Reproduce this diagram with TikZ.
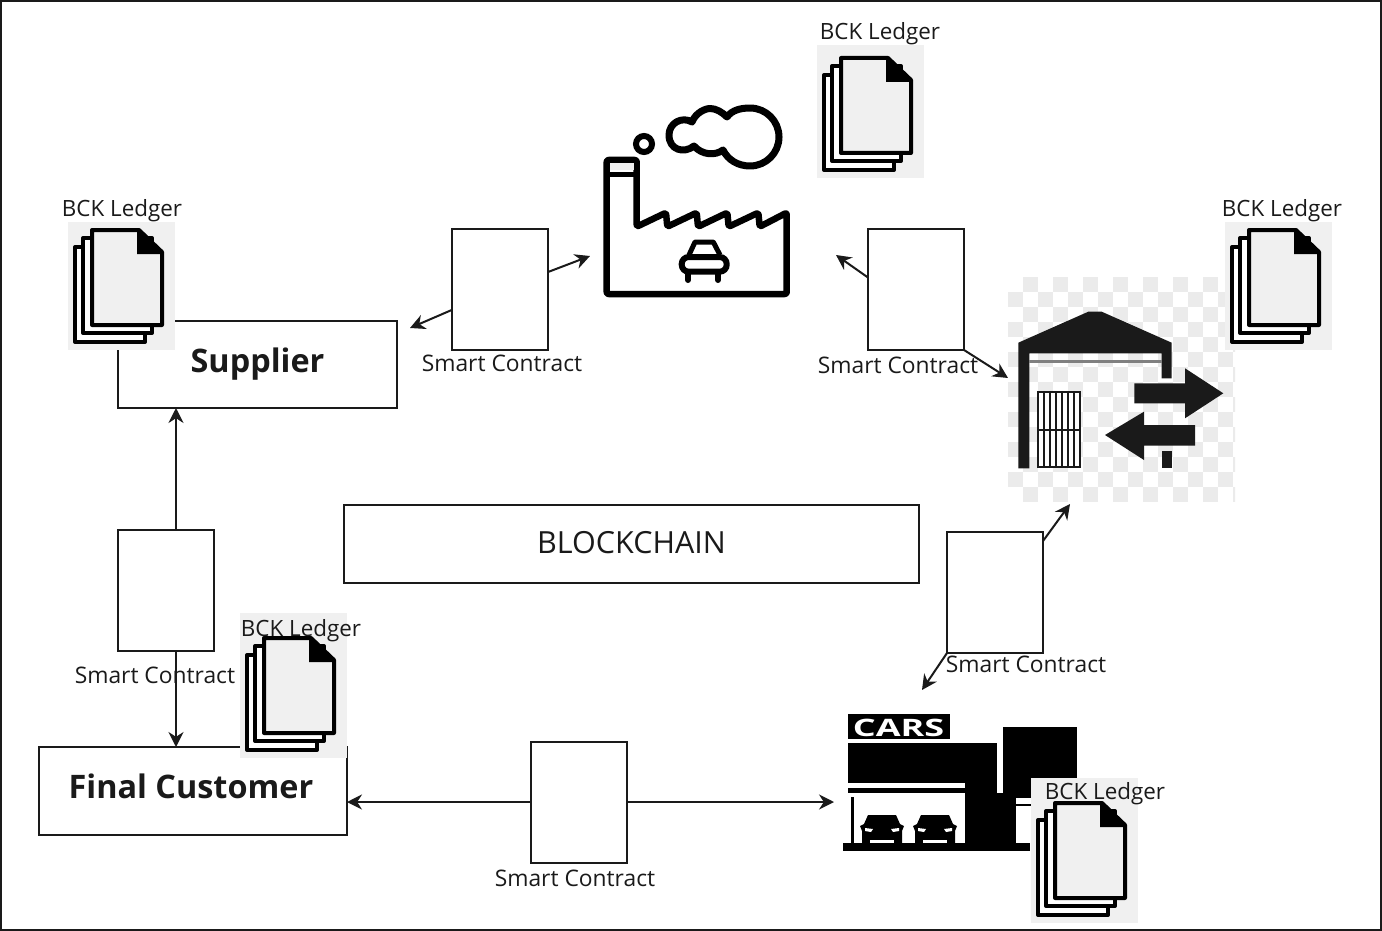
\documentclass[tikz,border=0pt]{standalone}
\usepackage{fontspec}
\setmainfont{Open Sans}
\usetikzlibrary{arrows.meta}
\definecolor{ink}{HTML}{1A1A1A}
\definecolor{paper}{HTML}{F0F0F0}
\tikzset{
  boxed/.style={draw=ink,line width=2pt,fill=white,minimum width=#1,inner sep=0pt,outer sep=0pt},
  scbox/.style={draw=ink,line width=2pt,minimum width=96pt,minimum height=121pt,inner sep=0pt,outer sep=0pt},
  arr/.style={draw=ink,line width=2pt,-{Stealth[length=15pt,width=15pt]}},
  sclabel/.style={font=\fontsize{22.8}{25}\selectfont,text=ink,inner sep=0pt},
  ledgerlabel/.style={font=\fontsize{22.4}{25}\selectfont,text=ink,inner sep=0pt},
  sheet/.style={draw=black,line width=4pt,line join=round,fill=white},
  icon/.style={draw=black,line width=6.5pt,line join=round,rounded corners=2pt},
  wh/.style={fill=ink,draw=none},
}
\newcommand{\ledgericon}[3]{%
  \fill[paper] (#1,#3) rectangle (#1+107,#2+128);
  \begin{scope}[shift={(#1,#2)}]
    \path[sheet] (7,25) -- (77,25) -- (77,120) -- (7,120) -- cycle;
    \path[sheet] (15,16) -- (84,16) -- (84,111) -- (15,111) -- cycle;
    \path[sheet,fill=paper] (24,8) -- (71,8) -- (94,30) -- (94,103) -- (24,103) -- cycle;
    \fill[black] (69,8) -- (71,8) -- (94,30) -- (94,32) -- (69,32) -- cycle;
  \end{scope}}
\newcommand{\showroomcar}[1]{%
  \fill[black] (#1-14,815) -- (#1+14,815) -- (#1+18,824) -- (#1+22,826) -- (#1+20,831) -- (#1+20,844) -- (#1-20,844) -- (#1-20,831) -- (#1-22,826) -- (#1-18,824) -- cycle;
  \fill[white] (#1-17,828) -- (#1-9,829) -- (#1-11,832) -- (#1-17,831) -- cycle;
  \fill[white] (#1+17,828) -- (#1+9,829) -- (#1+11,832) -- (#1+17,831) -- cycle;
  \fill[white] (#1-12,839.5) rectangle (#1+12,842.5);}
\begin{document}
\begin{tikzpicture}[x=1pt,y=-1pt]
\useasboundingbox (0,0) rectangle (1382,931);
\fill[white] (0,0) rectangle (1382,931);

% boxes
\node[boxed=279pt,minimum height=87pt] (supplier) at (257.5,364.5) {\fontsize{32.4}{35}\selectfont\bfseries \raisebox{9pt}{\textcolor{ink}{Supplier}}};
\node[boxed=308pt,minimum height=88pt] (customer) at (193,791) {\raisebox{9pt}{\hspace{-4pt}\fontsize{32.4}{35}\selectfont\bfseries \textcolor{ink}{Final Customer}}};
\node[boxed=575pt,minimum height=78pt] (chain) at (631.5,544) {\raisebox{4pt}{\fontsize{30.5}{33}\selectfont\textcolor{ink}{BLOCKCHAIN}}};

% smart contract boxes
\node[scbox] (sa) at (500,289.5) {};
\node[scbox] (sb) at (916,289.5) {};
\node[scbox] (sc) at (995,592.5) {};
\node[scbox] (sd) at (166,590) {};
\node[scbox] (se) at (579,802) {};

% free connector ends
\coordinate (ta) at (410,328);
\coordinate (tb) at (590,256);
\coordinate (tc) at (836,255);
\coordinate (td) at (1008,378);
\coordinate (te) at (1070,504);
\coordinate (tf) at (922,690);
\coordinate (tg) at (834,802);

% warehouse checkerboard
\begin{scope}
\clip (1008,277) rectangle (1235,502);
\foreach \r in {0,...,14}{
  \pgfmathsetmacro{\yy}{277+15*\r}
  \pgfmathtruncatemacro{\odd}{mod(\r,2)}
  \pgfmathsetmacro{\xs}{\odd==0 ? 1023 : 1008}
  \foreach \c in {0,...,7}{
    \pgfmathsetmacro{\xx}{\xs+30*\c}
    \fill[black!8] (\xx,\yy) rectangle (\xx+15,\yy+15);
  }
}
\end{scope}

% warehouse
\fill[wh] (1018.3,342.7) -- (1088.3,311.7) -- (1101.7,311.7) -- (1171.7,342.7) -- (1171.7,378.3) -- (1161.7,378.3) -- (1161.7,353.3) -- (1029.3,353.3) -- (1029.3,468.3) -- (1018.3,468.3) -- cycle;
\draw[black!50,line width=3pt] (1029.3,361.7) -- (1161.7,361.7);
\fill[white] (1037.7,391.7) rectangle (1080,467.3);
\foreach \k in {0,...,5}{
  \draw[ink,line width=2pt] (1043.7+6*\k,391.7) -- (1043.7+6*\k,467.3);
}
\draw[ink,line width=2pt] (1037.7,391.7) rectangle (1080,467.3);
\draw[ink,line width=2pt] (1037.7,429.5) -- (1080,429.5);
\fill[wh] (1134.3,383.3) -- (1185,383.3) -- (1185,368.3) -- (1223.3,393.3) -- (1185,418.3) -- (1185,403.3) -- (1134.3,403.3) -- cycle;
\fill[wh] (1195,425) -- (1144,425) -- (1144,411.7) -- (1105,435) -- (1144,460) -- (1144,445.7) -- (1195,445.7) -- cycle;
\fill[wh] (1161.7,451) rectangle (1172.3,468.3);

% factory
\path[icon,fill=white] (606.7,160) -- (636.7,160) -- (636.7,226.7) -- (666,212.7) -- (667.3,226.7) -- (696.7,212.7) -- (698,226.7) -- (727.3,212.7) -- (728.7,226.7) -- (758.3,212.7) -- (759.7,226.7) -- (786.7,212.7) -- (786.7,294) -- (606.7,294) -- cycle;
\fill[paper] (610,163) rectangle (633.5,170);
\draw[black,line width=5pt] (606.7,174.5) -- (636.7,174.5);
\draw[black,line width=6pt] (644,144) circle (8);
\draw[black,line width=7pt,line join=round] (694,146) .. controls (684,154) and (669,150) .. (669,135) .. controls (669,123) and (682,116) .. (692,122) .. controls (696,112) and (706,108.5) .. (710,108.5) .. controls (716,108.5) and (722,112) .. (727,117) .. controls (732,110) and (741,108) .. (750,108) .. controls (766,108) and (779,121) .. (779,137) .. controls (779,153) and (766,166) .. (750,166) .. controls (738,166) and (728,160) .. (723,150) .. controls (715,156) and (702,155) .. (694,146) -- cycle;
% factory car
\draw[black,line width=5pt,line join=round] (689,255) -- (695,242) -- (713.3,242) -- (720,255);
\draw[black,line width=6pt,rounded corners=7pt] (681.7,257) rectangle (726.7,271.7);
\draw[black,line width=6pt,line cap=round] (688,272) -- (688,280) (718,272) -- (718,280);

% car showroom
\fill[black] (848.3,714) rectangle (950,739.3);
\node[inner sep=0pt,text=white,font=\fontsize{24}{26}\selectfont\bfseries] (cars) at (898.5,728) {\scalebox{1.5}[1]{CARS}};
\fill[black] (848.3,743.3) rectangle (996.7,783.3);
\fill[black] (848.3,787.5) rectangle (965,792.5);
\fill[black] (965,783.3) rectangle (1016,843.3);
\fill[black] (996.7,743.3) rectangle (1003,793);
\fill[black] (1003,727.3) rectangle (1077.3,798);
\fill[white] (997,727.3) rectangle (1003,793);
\draw[black,line width=1.5pt] (1016,805) -- (1031,805);
\fill[black] (850.7,796.7) rectangle (854,843.3);
\fill[black] (842.7,843.3) rectangle (1030,850.7);
\showroomcar{882}
\showroomcar{935}

% ledgers
\ledgericon{68}{222}{222}
\ledgericon{817}{50}{45}
\ledgericon{1225}{222}{222}
\ledgericon{240}{630}{613}
\ledgericon{1031}{795}{778}

% customer box edge below the ledger
\draw[ink,line width=2pt] (customer.south east |- 0,758) -- (customer.south east);

% connectors
\draw[arr] (sa.203) -- (ta);
\draw[arr] (sa.20) -- (tb);
\draw[arr] (sb.166.5) -- (tc);
\draw[arr] (sb.south east) -- (td);
\draw[arr] (sc.47.6) -- (te);
\draw[arr] (sc.south west) -- (tf);
\draw[arr] ([xshift=10pt]sd.north) -- ([xshift=10pt]sd.north |- supplier.south);
\draw[arr] ([xshift=10pt]sd.south) -- ([xshift=10pt]sd.south |- customer.north);
\draw[arr] (se.west) -- (se.west -| customer.east);
\draw[arr] (se.east) -- (tg);

% labels
\node[sclabel] (la) at (502,363) {Smart Contract};
\node[sclabel] (lb) at (898,365) {Smart Contract};
\node[sclabel] (lc) at (1026,664) {Smart Contract};
\node[sclabel] (ld) at (155,675) {Smart Contract};
\node[sclabel] (le) at (575,878) {Smart Contract};
\node[ledgerlabel] (ka) at (122,211) {BCK Ledger};
\node[ledgerlabel] (kb) at (880,34) {BCK Ledger};
\node[ledgerlabel] (kc) at (1282,211) {BCK Ledger};
\node[ledgerlabel] (kd) at (301,631) {BCK Ledger};
\node[ledgerlabel] (ke) at (1105,794) {BCK Ledger};

% frame
\draw[ink,line width=4pt] (0,0) rectangle (1382,931);
\end{tikzpicture}
\end{document}
